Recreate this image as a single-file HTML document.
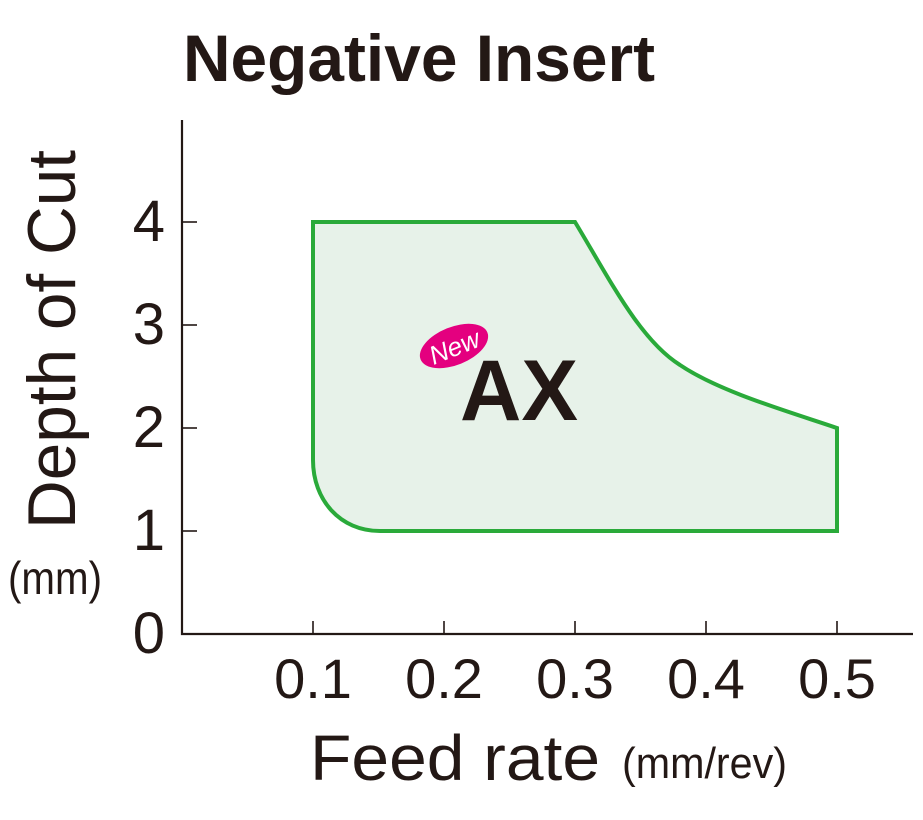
<!DOCTYPE html>
<html><head><meta charset="utf-8"><style>
html,body{margin:0;padding:0;background:#fff}
svg{display:block}
text{font-family:"Liberation Sans",sans-serif;fill:#231815}
</style></head><body>
<svg width="923" height="820" viewBox="0 0 923 820" xmlns="http://www.w3.org/2000/svg">
<text x="183" y="81" font-size="66" font-weight="bold" textLength="472" lengthAdjust="spacingAndGlyphs">Negative Insert</text>
<path d="M313,222 L575,222 C610,280 640,340 680,365 C720,392 790,412 837,428 L837,531 L380,531 C340,531 313,500 313,460 Z" fill="#e7f2e9" stroke="#2aaa3a" stroke-width="4" stroke-linejoin="miter"/>
<path d="M182,120 L182,634 L913,634" fill="none" stroke="#231815" stroke-width="2.2"/>
<g stroke="#231815" stroke-width="1.6">
<line x1="182" y1="222" x2="197" y2="222"/><line x1="182" y1="325" x2="197" y2="325"/>
<line x1="182" y1="428" x2="197" y2="428"/><line x1="182" y1="531" x2="197" y2="531"/>
<line x1="313" y1="634" x2="313" y2="621"/><line x1="444" y1="634" x2="444" y2="621"/>
<line x1="575" y1="634" x2="575" y2="621"/><line x1="706" y1="634" x2="706" y2="621"/>
<line x1="837" y1="634" x2="837" y2="621"/>
</g>
<g font-size="58" text-anchor="end">
<text x="165" y="241">4</text><text x="165" y="344">3</text><text x="165" y="447">2</text><text x="165" y="550">1</text><text x="165" y="653">0</text>
</g>
<g font-size="56" text-anchor="middle">
<text x="313" y="698">0.1</text><text x="444" y="698">0.2</text><text x="575" y="698">0.3</text><text x="706" y="698">0.4</text><text x="837" y="698">0.5</text>
</g>
<text x="310" y="780" font-size="64" textLength="290" lengthAdjust="spacingAndGlyphs">Feed rate</text>
<text x="622" y="778" font-size="44" textLength="165" lengthAdjust="spacingAndGlyphs">(mm/rev)</text>
<text transform="translate(75,529) rotate(-90)" font-size="68" textLength="379" lengthAdjust="spacingAndGlyphs">Depth of Cut</text>
<text x="8" y="594" font-size="46" textLength="94" lengthAdjust="spacingAndGlyphs">(mm)</text>
<ellipse cx="454" cy="346" rx="36" ry="19" transform="rotate(-22 454 346)" fill="#e4007f"/>
<text x="454" y="356" font-size="26" font-style="italic" font-family="Liberation Serif,serif" text-anchor="middle" transform="rotate(-22 454 346)" style="fill:#fff">New</text>
<text x="460" y="420" font-size="86" font-weight="bold" textLength="118" lengthAdjust="spacingAndGlyphs">AX</text>
</svg>
</body></html>
